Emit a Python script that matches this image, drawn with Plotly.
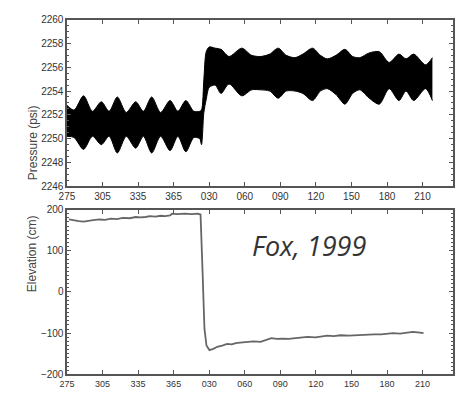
import plotly.graph_objects as go

# ---------------- data ----------------
# x axis: continuous day count; ticks 030..210 are days of the following year (365 + d)
tick_vals = [275, 305, 335, 365, 395, 425, 455, 485, 515, 545, 575]
tick_text = ["275", "305", "335", "365", "030", "060", "090", "120", "150", "180", "210"]

# Pressure (psi): envelope of the dense tidal signal (upper / lower edges of the black band)
press_days = [275, 281, 289, 296.5, 304, 310.6, 317.5, 325, 333, 339.5, 346.5, 354, 362,
              368.6, 375.3, 382, 387, 388.5, 390.5, 392.5, 395, 400, 405, 411.7, 422.5,
              430.8, 438.5, 446, 453.2, 460, 467.3, 474, 482.2, 488.8, 494.6, 502, 509.5,
              516, 522, 530, 538.5, 546.8, 555.1, 561, 567.5, 577.5, 583.3]
press_upper = [2252.8, 2252.4, 2253.6, 2252.3, 2253.1, 2252.3, 2253.5, 2252.2, 2253.1, 2252.3,
               2253.5, 2252.2, 2253.2, 2252.3, 2253.2, 2252.3, 2252.3, 2252.4, 2255.0, 2257.3,
               2257.7, 2257.6, 2257.5, 2256.9, 2257.6, 2257.0, 2256.9, 2257.1, 2257.6, 2257.0,
               2256.8, 2257.1, 2257.6, 2257.0, 2256.7, 2257.0, 2257.5, 2256.9, 2256.8, 2257.2,
               2257.3, 2256.4, 2257.1, 2256.7, 2257.1, 2256.2, 2256.8]
press_lower = [2250.2, 2250.1, 2249.1, 2250.2, 2249.5, 2250.2, 2248.8, 2250.2, 2249.2, 2250.2,
               2248.8, 2250.2, 2249.0, 2250.2, 2248.9, 2250.1, 2250.0, 2249.5, 2252.2, 2253.3,
               2254.3, 2254.5, 2253.8, 2254.6, 2253.6, 2254.1, 2254.1, 2254.0, 2253.4, 2254.0,
               2254.0, 2253.8, 2253.2, 2254.0, 2254.2, 2253.7, 2252.9, 2253.8, 2254.1, 2253.4,
               2252.9, 2254.2, 2253.2, 2254.0, 2253.2, 2254.2, 2253.2]

# Elevation (cm)
elev_days = [276.7, 281.6, 285, 289.1, 292, 295.7, 302.3, 307, 312.3, 317, 322.2, 328, 333,
             337, 341.3, 345, 349.6, 354, 357.9, 362, 363.7, 368, 374.4, 380, 385.2, 387.7,
             389.4, 391, 392.7, 395.2, 398.5, 401.8, 406, 410.1, 414, 417.5, 421, 424.2, 428,
             432.4, 438.3, 443, 447.4, 452, 457.3, 462, 467.3, 472, 478, 484.7, 490, 494.6,
             500, 506, 512.8, 518, 522, 528, 534, 540.2, 545, 550.1, 556, 562.5, 566.7, 571,
             575.8]
elev_cm = [176, 173, 172, 171, 173, 174, 176, 175, 178, 177, 180, 179, 182, 181, 182, 184, 183,
           185, 184, 186, 190, 189, 190, 189, 190, 188, 50, -89, -130, -141, -138, -133, -130,
           -126, -127, -124, -123, -122, -121, -120, -121, -116, -112, -114, -113, -114, -112,
           -110, -109, -110, -108, -106, -107, -105, -106, -105, -104, -104, -103, -103, -101,
           -100, -101, -99, -97, -98, -100]

# ---------------- figure ----------------
W, H = 455, 393
fig = go.Figure()

fig.add_trace(go.Scatter(x=press_days, y=press_lower, mode="lines",
                         line=dict(color="black", width=1, shape="spline", smoothing=0.8),
                         xaxis="x", yaxis="y", showlegend=False, hoverinfo="skip"))
fig.add_trace(go.Scatter(x=press_days, y=press_upper, mode="lines", fill="tonexty",
                         fillcolor="black",
                         line=dict(color="black", width=1, shape="spline", smoothing=0.8),
                         xaxis="x", yaxis="y", showlegend=False, hoverinfo="skip"))

fig.add_trace(go.Scatter(x=elev_days, y=elev_cm, mode="lines",
                         line=dict(color="#666666", width=1.8),
                         xaxis="x2", yaxis="y2", showlegend=False, hoverinfo="skip"))

x0, x1 = 60 / W, 453 / W
top_dom = [1 - 186 / H, 1 - 14 / H]
bot_dom = [1 - 380 / H, 1 - 210 / H]

tickfont = dict(family="Liberation Sans, Arial", size=10, color="#333333")
axis_common = dict(showline=True, linecolor="#555555", linewidth=1.5, mirror="ticks",
                   ticks="inside", ticklen=4, tickcolor="#555555", tickwidth=1,
                   showgrid=False, zeroline=False, tickfont=tickfont)

fig.update_layout(
    width=W, height=H,
    margin=dict(l=0, r=0, t=0, b=0),
    paper_bgcolor="white", plot_bgcolor="white",
    xaxis=dict(domain=[x0, x1], range=[275, 600.7], anchor="y",
               tickvals=tick_vals, ticktext=tick_text, **axis_common),
    yaxis=dict(domain=top_dom, range=[2246, 2260], anchor="x", dtick=2,
               minor=dict(dtick=0.5, ticks="inside", ticklen=2, tickcolor="#555555"),
               **axis_common),
    xaxis2=dict(domain=[x0, x1], range=[275, 600.7], anchor="y2",
                tickvals=tick_vals, ticktext=tick_text,
                **{k: v for k, v in axis_common.items() if k != "tickfont"},
                tickfont=dict(family="Liberation Sans, Arial", size=9, color="#333333")),
    yaxis2=dict(domain=bot_dom, range=[-200, 200], anchor="x2", dtick=100,
                minor=dict(dtick=10, ticks="inside", ticklen=2, tickcolor="#555555"),
                **axis_common),
    annotations=[
        dict(text="Pressure (psi)", x=17 / W, y=1 - 100 / H, xref="paper", yref="paper",
             textangle=-90, showarrow=False,
             font=dict(family="Liberation Sans, Arial", size=12, color="#444444")),
        dict(text="Elevation (cm)", x=16 / W, y=1 - 297 / H, xref="paper", yref="paper",
             textangle=-90, showarrow=False,
             font=dict(family="Liberation Sans, Arial", size=12, color="#444444")),
        dict(text="<i>Fox, 1999</i>", x=366 / W, y=1 - 247 / H, xref="paper", yref="paper",
             showarrow=False,
             font=dict(family="Open Sans", size=27, color="#333333")),
    ],
)

fig.write_html("out.html", config={"displayModeBar": False, "staticPlot": True},
               post_script="document.body.style.margin='0';document.body.style.overflow='hidden';")
